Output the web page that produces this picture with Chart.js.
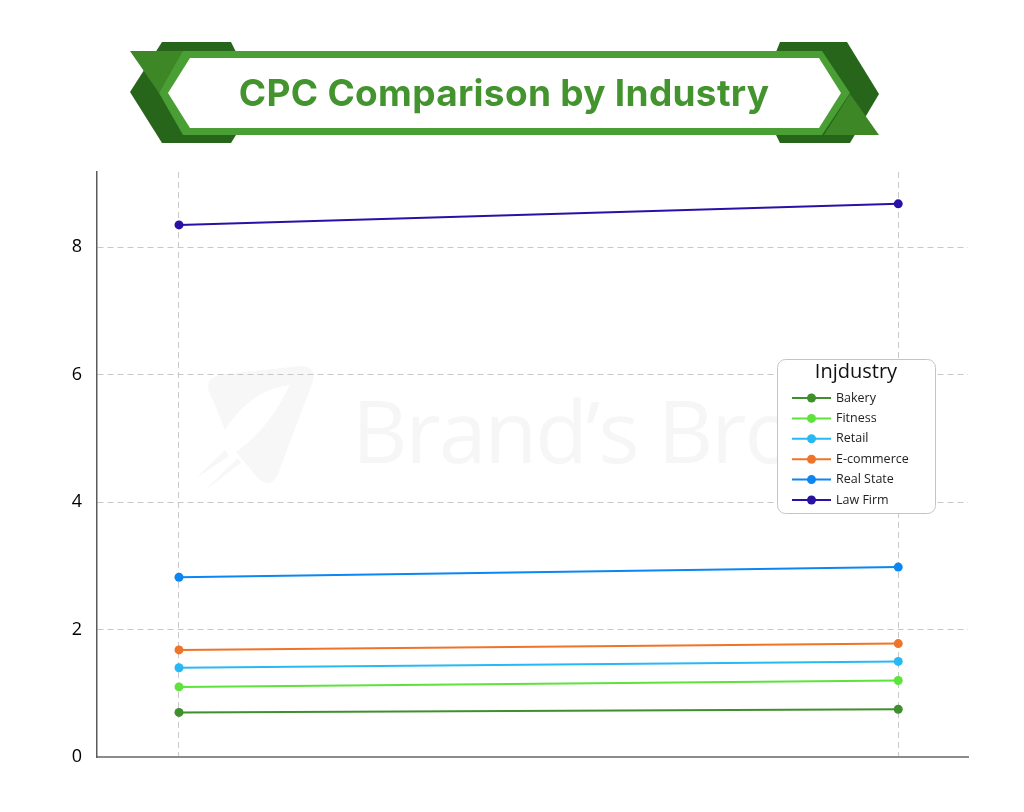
<!DOCTYPE html>
<html>
<head>
<meta charset="utf-8">
<script src="https://cdn.jsdelivr.net/npm/chart.js@4.4.1/dist/chart.umd.min.js"></script>
<style>
  html, body { margin: 0; padding: 0; background: #ffffff; }
  #wrap { position: relative; width: 1024px; height: 812px; overflow: hidden; }
  #banner { position: absolute; left: 0; top: 0; }
  #title { position: absolute; left: 0; width: 1008px; top: 68px; text-align: center;
           font-family: "Inter", "Lato", sans-serif; font-weight: 700; font-size: 37px;
           color: #43932f; line-height: 50px; letter-spacing: 0.3px; }
  #watermark { position: absolute; left: 352px; top: 380px; font-family: "Open Sans", sans-serif;
               font-size: 86px; color: #f6f6f6; white-space: nowrap; line-height: 100px; letter-spacing: -2px; }
  #logo { position: absolute; left: 0; top: 0; }
  #chartBox { position: absolute; left: 0; top: 0; width: 1024px; height: 812px; }
</style>
</head>
<body>
<div id="wrap">
  <svg id="logo" width="1024" height="812">
    <path d="M212,398 Q200,378 225,374 L300,366 Q318,366 312,384 L278,474 Q270,490 258,478 L236,452 Q268,430 290,385 Q250,390 225,430 Z" fill="#f7f7f7"/>
    <path d="M196,478 L225,450 L229,456 Z M205,490 L238,458 L241,463 Z" fill="#f7f7f7"/>
  </svg>
  <div id="watermark">Brand’s Bro</div>
  <div id="chartBox"><canvas id="c" width="1024" height="812"></canvas></div>
  <svg id="banner" width="1024" height="160">
    <polygon points="162,42 231,42 236,52 236,135 231,143 162,143 130,92" fill="#27651a"/>
    <polygon points="780,42 847,42 879,94 850,143 780,143 776,135 776,52" fill="#27651a"/>
    <polygon points="130,51 185,51 159,93" fill="#3e8726"/>
    <polygon points="879,135 824,135 850,94" fill="#3e8726"/>
    <polygon points="183,51 822,51 850,93 822,135 183,135 159,93" fill="#4a9f34"/>
    <polygon points="190,58 819,58 841,93 819,128 190,128 168,93" fill="#ffffff"/>
  </svg>
  <div id="title">CPC Comparison by Industry</div>
</div>
<script>
const periodIndex = [0, 1];
const seriesNames = ['Bakery', 'Fitness', 'Retail', 'E-commerce', 'Real State', 'Law Firm'];
const bakery = [0.70, 0.75];
const fitness = [1.10, 1.20];
const retail = [1.40, 1.50];
const ecommerce = [1.68, 1.78];
const realState = [2.82, 2.98];
const lawFirm = [8.35, 8.68];
const yTicks = [0, 2, 4, 6, 8];
const legendTitle = 'Injdustry';

const seriesValues = [bakery, fitness, retail, ecommerce, realState, lawFirm];
const seriesColors = ['#3f8f2d', '#5ee23c', '#27b9f4', '#f0732a', '#0b86f2', '#2b10a6'];

const datasets = seriesNames.map((name, i) => ({
  label: name,
  data: periodIndex.map((x, j) => ({ x: x, y: seriesValues[i][j] })),
  borderColor: seriesColors[i],
  backgroundColor: seriesColors[i],
  borderWidth: 2,
  pointRadius: 4.5,
  pointHoverRadius: 4.5,
  pointBorderWidth: 0,
  tension: 0
}));

const boxLegend = {
  id: 'boxLegend',
  afterDraw(chart) {
    const ctx = chart.ctx;
    const x0 = 777, y0 = 359, w = 158, h = 154, r = 8;
    ctx.save();
    ctx.beginPath();
    ctx.roundRect(x0 + 0.5, y0 + 0.5, w, h, r);
    ctx.fillStyle = '#ffffff';
    ctx.fill();
    ctx.strokeStyle = '#c4c4c4';
    ctx.lineWidth = 1;
    ctx.stroke();
    ctx.fillStyle = '#111111';
    ctx.font = '20px "Open Sans", sans-serif';
    ctx.textAlign = 'center';
    ctx.textBaseline = 'middle';
    ctx.fillText(legendTitle, x0 + w / 2, y0 + 13);
    ctx.font = '12.5px "Open Sans", sans-serif';
    ctx.textAlign = 'left';
    chart.data.datasets.forEach((ds, i) => {
      const y = 398 + i * 20.4;
      ctx.strokeStyle = ds.borderColor;
      ctx.lineWidth = 2;
      ctx.beginPath();
      ctx.moveTo(792, y);
      ctx.lineTo(831, y);
      ctx.stroke();
      ctx.fillStyle = ds.borderColor;
      ctx.beginPath();
      ctx.arc(811.5, y, 4.5, 0, Math.PI * 2);
      ctx.fill();
      ctx.fillStyle = '#222222';
      ctx.fillText(ds.label, 836, y);
    });
    ctx.restore();
  }
};

new Chart(document.getElementById('c'), {
  type: 'line',
  data: { datasets: datasets },
  options: {
    responsive: false,
    animation: false,
    devicePixelRatio: 1,
    layout: { padding: { left: 57, right: 56, top: 172, bottom: 55 } },
    plugins: { legend: { display: false }, tooltip: { enabled: false }, title: { display: false } },
    scales: {
      x: {
        type: 'linear',
        min: -0.114,
        max: 1.097,
        afterBuildTicks: (s) => { s.ticks = periodIndex.map(v => ({ value: v })); },
        afterFit: (s) => { s.height = 0; },
        ticks: { display: false },
        grid: { color: '#c8c8c8', lineWidth: 1, drawTicks: false },
        border: { display: true, color: '#8c8c8c', width: 2, dash: [6, 4] }
      },
      y: {
        type: 'linear',
        min: 0,
        max: 9.18,
        afterBuildTicks: (s) => { s.ticks = yTicks.map(v => ({ value: v })); },
        afterFit: (s) => { s.width = 40; },
        ticks: { color: '#000000', padding: 15, font: { family: '"Open Sans", sans-serif', size: 18 } },
        grid: { color: (c) => c.tick && c.tick.value === 0 ? 'rgba(0,0,0,0)' : '#c8c8c8', lineWidth: 1, drawTicks: false },
        border: { display: true, color: '#5a5a5a', width: 1.5, dash: [6, 4] }
      }
    }
  },
  plugins: [boxLegend]
});
</script>
</body>
</html>
